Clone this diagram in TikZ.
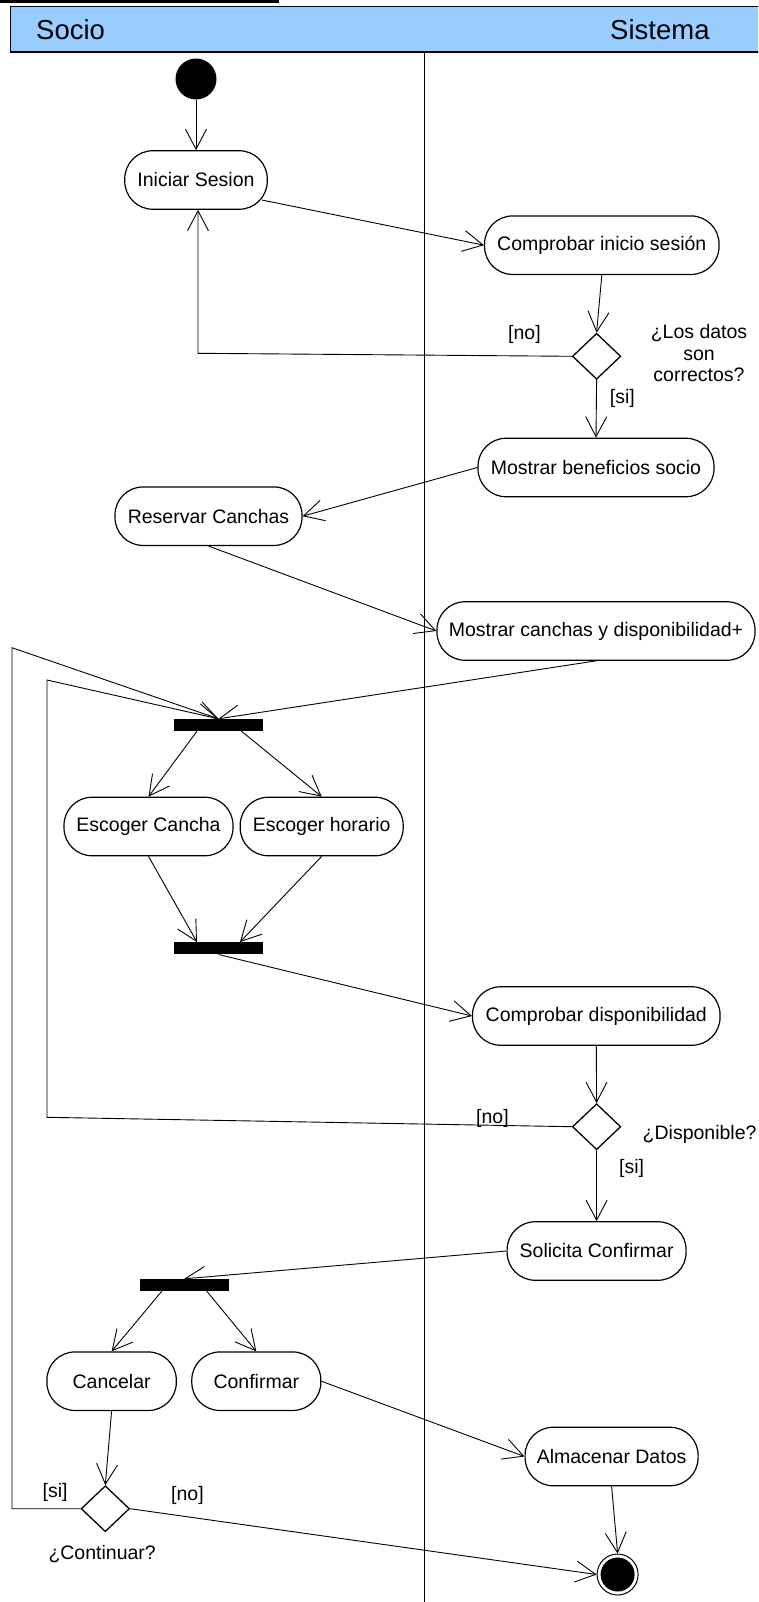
\documentclass[tikz,border=0pt]{standalone}
\usepackage{fontspec}
\setmainfont{Liberation Sans}
\usetikzlibrary{arrows.meta,calc,shapes.geometric}
\definecolor{lanefill}{RGB}{153,204,255}
\begin{document}
\begin{tikzpicture}[x=1pt,y=-1pt,
  txt/.style={font=\fontsize{19.5pt}{21.5pt}\selectfont},
  act/.style={txt, draw, line width=1.2pt, rounded corners=28pt, inner sep=0pt, minimum height=58.5pt},
  bar/.style={fill=black, draw=none, inner sep=0pt, minimum width=89pt, minimum height=12pt},
  choice/.style={diamond, draw, line width=1.3pt, inner sep=0pt, minimum width=48.4pt, minimum height=46pt},
  flow/.style={line width=0.9pt, -{Straight Barb[length=20pt,width=21pt]}},
  wire/.style={line width=0.9pt},
  guard/.style={txt, inner sep=0pt, anchor=west},
  lanetitle/.style={font=\fontsize{27.5pt}{30pt}\selectfont, inner sep=0pt, anchor=west},
]
\useasboundingbox (0,0) rectangle (758,1602);
\clip (0,0) rectangle (758,1602);

% swimlane header and divider
\fill (0,0) rectangle (279,3.3);
\draw[fill=lanefill, line width=1.5pt] (10.6,6.7) rectangle (780,52);
\node[lanetitle] (laneA) at (36,29.5) {Socio};
\node[lanetitle] (laneB) at (610,29.5) {Sistema};
\draw[line width=1.3pt] (424.2,52) -- (424.2,1620);

% initial and final states
\node[circle, fill=black, inner sep=0pt, minimum size=41pt] (start) at (196,79) {};
\node[circle, draw, line width=1pt, inner sep=0pt, minimum size=41pt] (finish) at (617.6,1574.5) {};
\fill (finish.center) circle (17pt);

% activities
\node[act, minimum width=142.5pt] (ini) at (196,180) {Iniciar Sesion};
\node[act, minimum width=234.5pt] (cmp) at (601.8,245.2) {Comprobar inicio sesión};
\node[choice] (d1) at (596.6,356.3) {};
\node[act, minimum width=236pt] (mb) at (596,467.5) {Mostrar beneficios socio};
\node[act, minimum width=187pt] (res) at (208.5,516.2) {Reservar Canchas};
\node[act, minimum width=318pt] (mc) at (596,631) {Mostrar canchas y disponibilidad+};
\node[bar] (bar1) at (218.5,725) {};
\node[act, minimum width=169pt] (ec) at (148.5,826.5) {Escoger Cancha};
\node[act, minimum width=163pt] (eh) at (321.7,826.5) {Escoger horario};
\node[bar] (bar2) at (218.5,948.3) {};
\node[act, minimum width=247.5pt] (cd) at (596.3,1016) {Comprobar disponibilidad};
\node[choice] (d2) at (596.6,1126.7) {};
\node[act, minimum width=179pt] (sol) at (596.6,1251) {Solicita Confirmar};
\node[bar, minimum width=88.5pt] (bar3) at (184.3,1285) {};
\node[act, minimum width=129.4pt] (can) at (111.6,1381.2) {Cancelar};
\node[act, minimum width=129pt] (con) at (256.3,1381.2) {Confirmar};
\node[act, minimum width=173pt] (alm) at (611.6,1456.5) {Almacenar Datos};
\node[choice] (d3) at (105.3,1508.7) {};

% guards and decision notes
\node[guard] (g1no) at (508,334) {[no]};
\node[guard] (g1si) at (609.7,398) {[si]};
\node[txt, align=center, inner sep=0pt] (q1) at (699,353.5) {¿Los datos\\son\\correctos?};
\node[guard] (g2no) at (476,1118) {[no]};
\node[guard] (g2si) at (619,1168) {[si]};
\node[guard] (q2) at (642.5,1134) {¿Disponible?};
\node[guard] (g3si) at (42.5,1492.5) {[si]};
\node[guard] (g3no) at (171,1495.5) {[no]};
\node[guard] (q3) at (48.3,1554) {¿Continuar?};

% bends of the loops
\coordinate (k1) at (198,353.3);
\coordinate (k2a) at (47,1117.3);
\coordinate (k2b) at (47,680);
\coordinate (k3a) at (12,1508.7);
\coordinate (k3b) at (12,647.7);

% transitions
\draw[flow] (start) -- (ini.north);
\draw[flow] ($(ini.east)+(-6,20)$) -- (cmp.west);
\draw[flow] (cmp.south) -- (d1.north);
\draw[flow] (d1.west) -- (k1) -- (k1 |- ini.south);
\draw[flow] (d1.south) -- (mb.north);
\draw[flow] (mb.west) -- (res.east);
\draw[flow] (res.south) -- (mc.west);
\draw[flow] (mc.south) -- (bar1.north);
\draw[flow] (d2.west) -- (k2a) -- (k2b) -- (bar1.north);
\draw[flow] (d3.west) -- (k3a) -- (k3b) -- (bar1.north);
\draw[flow] ($(bar1.south)+(-21.5,0)$) -- (ec.north);
\draw[flow] ($(bar1.south)+(23,0)$) -- (eh.north);
\draw[flow] (ec.south) -- ($(bar2.north)+(-21.5,0)$);
\draw[flow] (eh.south) -- ($(bar2.north)+(21.5,0)$);
\draw[flow] (bar2.south) -- (cd.west);
\draw[flow] (cd.south) -- (d2.north);
\draw[flow] (d2.south) -- (sol.north);
\draw[flow] (sol.west) -- (bar3.north);
\draw[flow] ($(bar3.south)+(-22.5,0)$) -- (can.north);
\draw[flow] ($(bar3.south)+(22.5,0)$) -- (con.north);
\draw[flow] (con.east) -- (alm.west);
\draw[flow] (alm.south) -- (finish.north);
\draw[flow] (can.south) -- (d3.north);
\draw[flow] (d3.east) -- (finish.west);
\end{tikzpicture}
\end{document}
